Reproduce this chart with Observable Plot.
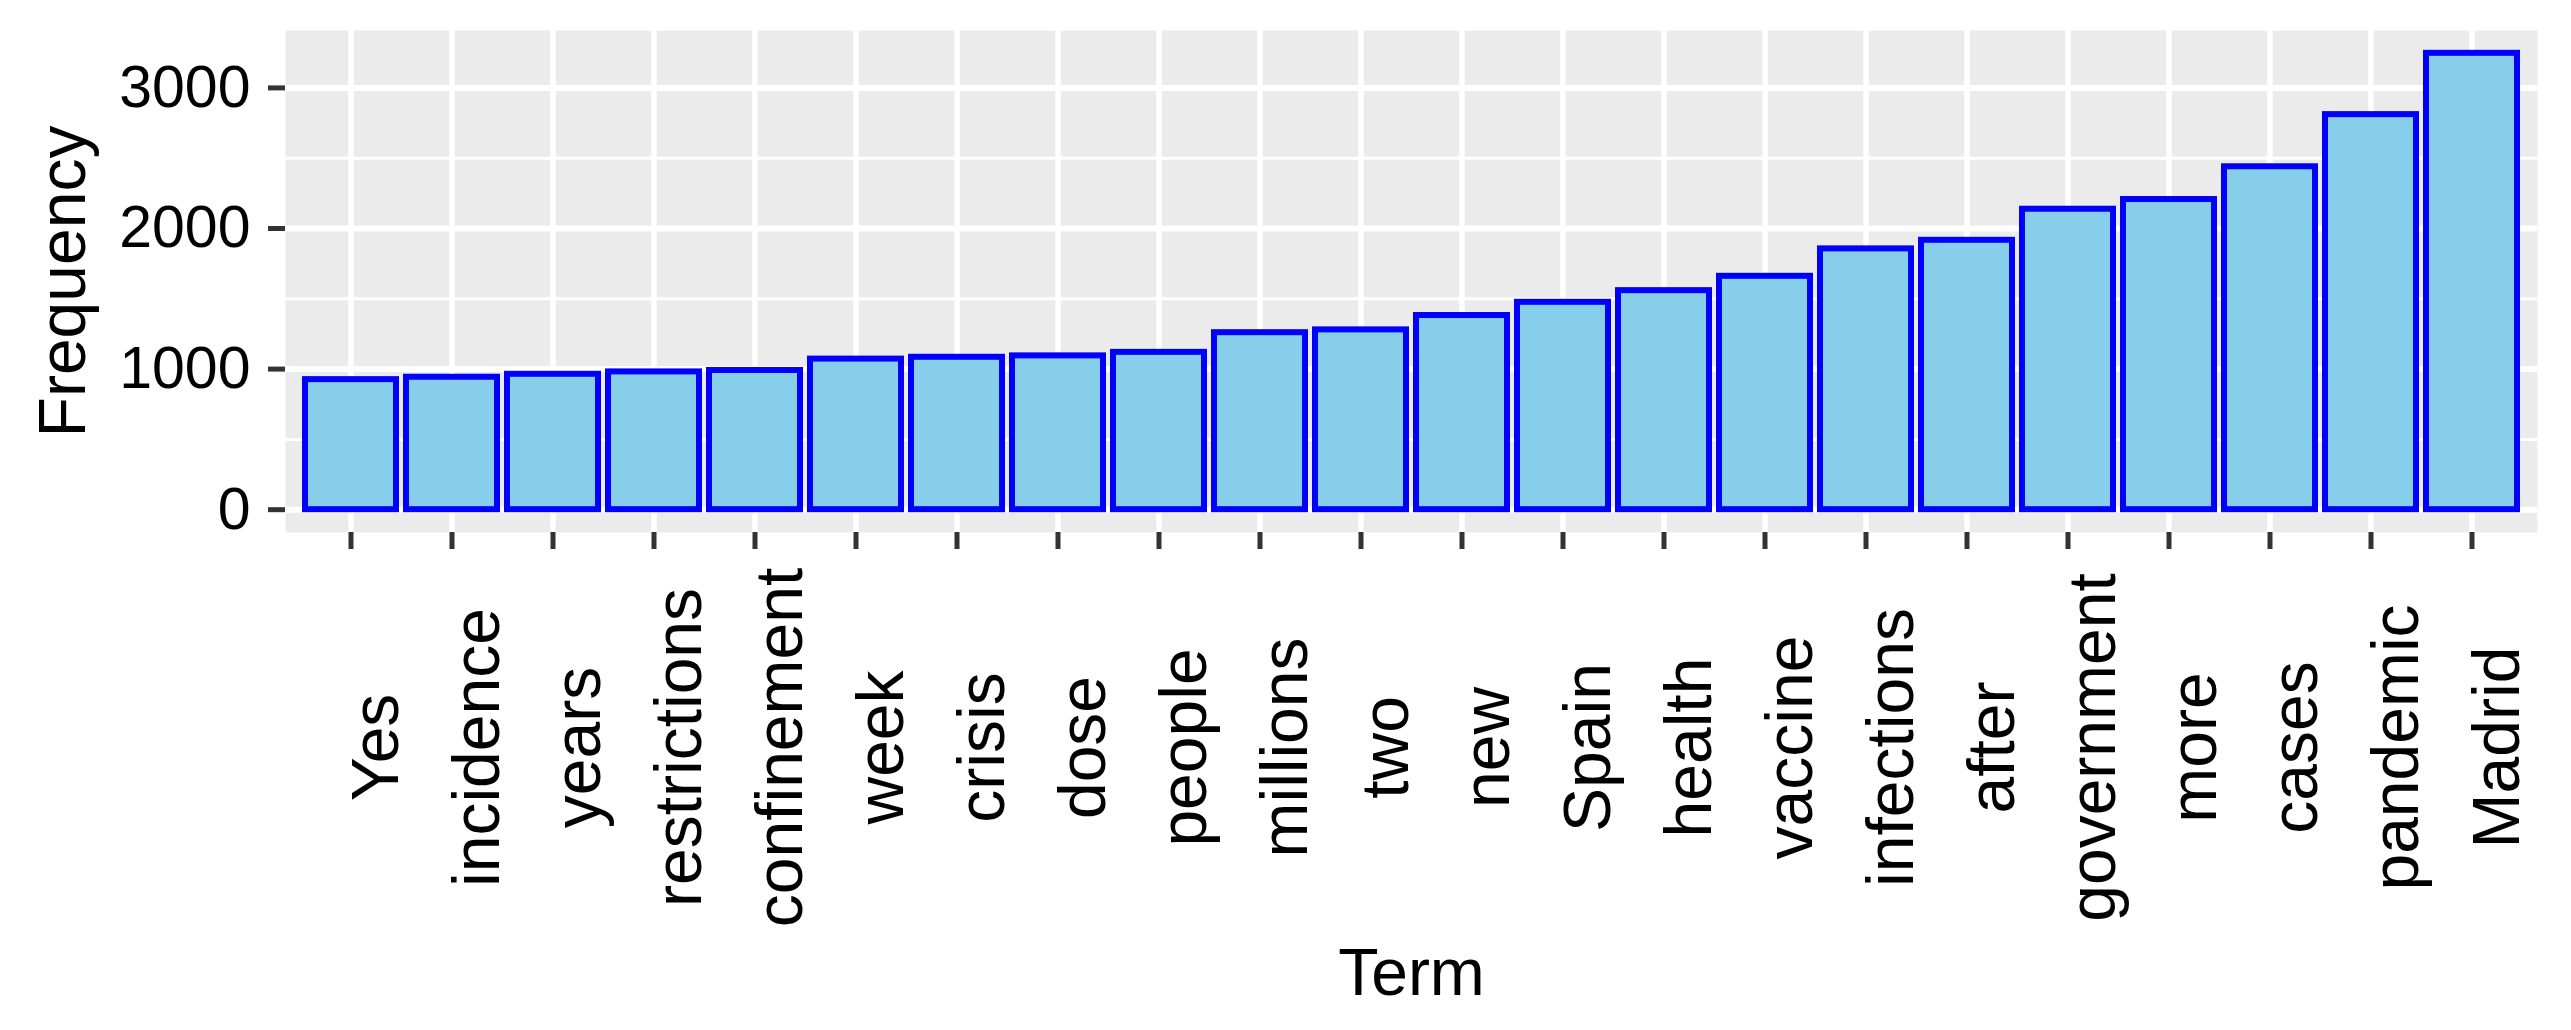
<!DOCTYPE html>
<html><head><meta charset="utf-8">
<script src="https://cdn.jsdelivr.net/npm/d3@7"></script>
<script src="https://cdn.jsdelivr.net/npm/@observablehq/plot@0.6"></script>
<style>body{margin:0;background:#fff;}</style>
</head><body><div id="chart"></div>
<script>
const terms = ["Yes","incidence","years","restrictions","confinement","week","crisis","dose","people","millions","two","new","Spain","health","vaccine","infections","after","government","more","cases","pandemic","Madrid"];
const frequencies = [925,942,963,980,990,1071,1084,1094,1119,1259,1279,1381,1475,1558,1660,1855,1916,2137,2206,2439,2810,3246];
const yTicks = [0,1000,2000,3000];
const yMinorTicks = [500,1500,2500];
const xTitle = "Term";
const yTitle = "Frequency";

const data = terms.map((t, i) => ({term: t, freq: frequencies[i]}));
const maxF = d3.max(frequencies);

const chart = Plot.plot({
  width: 2571, height: 1030,
  marginLeft: 285, marginRight: 34, marginTop: 30, marginBottom: 498,
  style: {fontFamily: "'Liberation Sans', Arial, Helvetica, sans-serif", background: "#fff", color: "#000"},
  x: {domain: terms, paddingInner: 0.1, paddingOuter: 0.15, axis: null},
  y: {domain: [-0.05 * maxF, 1.05 * maxF], axis: null},
  marks: [
    Plot.frame({fill: "#EBEBEB", stroke: "none"}),
    Plot.gridX(terms, {stroke: "#fff", strokeOpacity: 1, strokeWidth: 5.5}),
    Plot.gridY(yMinorTicks, {stroke: "#fff", strokeOpacity: 1, strokeWidth: 3}),
    Plot.gridY(yTicks, {stroke: "#fff", strokeOpacity: 1, strokeWidth: 6}),
    Plot.barY(data, {x: "term", y: "freq", fill: "#87CEEB", stroke: "#0000FF", strokeWidth: 6, inset: 0}),
    Plot.axisY(yTicks, {anchor: "left", tickSize: 17, tickPadding: 18, tickFormat: d => String(d), stroke: "#333", strokeWidth: 5, fill: "#000", fontSize: 59, label: null}),
    Plot.axisX({anchor: "bottom", tickSize: 17, tickRotate: -90, textAnchor: "middle", lineAnchor: "top", tickPadding: 198, fontSize: 66, fill: "#000", stroke: "#333", strokeWidth: 5, label: null}),
    Plot.text([yTitle], {frameAnchor: "left", dx: -247, rotate: -90, lineAnchor: "top", textAnchor: "middle", fontSize: 66, fill: "#000"}),
    Plot.text([xTitle], {frameAnchor: "bottom", dy: 416, lineAnchor: "top", textAnchor: "middle", fontSize: 66, fill: "#000"})
  ]
});
document.getElementById("chart").appendChild(chart);
</script>
</body></html>
